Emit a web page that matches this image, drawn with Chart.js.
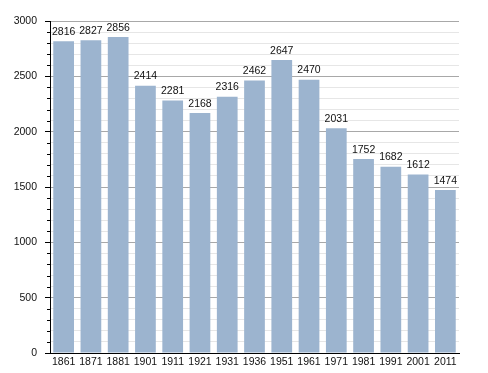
<!DOCTYPE html>
<html>
<head>
<meta charset="utf-8">
<script src="https://cdn.jsdelivr.net/npm/chart.js@4/dist/chart.umd.min.js"></script>
<style>
  html, body { margin: 0; padding: 0; background: #fff; }
  #wrap { width: 488px; height: 373px; }
</style>
</head>
<body>
<div id="wrap"><canvas id="chart" width="488" height="373"></canvas></div>
<script>
// population by census year
const years = ['1861', '1871', '1881', '1901', '1911', '1921', '1931', '1936', '1951', '1961', '1971', '1981', '1991', '2001', '2011'];
const population = [2816, 2827, 2856, 2414, 2281, 2168, 2316, 2462, 2647, 2470, 2031, 1752, 1682, 1612, 1474];
const yTicks = [0, 500, 1000, 1500, 2000, 2500, 3000];

const FONT = '"Liberation Sans", Arial, sans-serif';

// value labels above the bars + short minor ticks on the y axis
const extras = {
    id: 'extras',
    afterDatasetsDraw(chart) {
        const ctx = chart.ctx;
        const meta = chart.getDatasetMeta(0);
        ctx.save();
        ctx.font = '10.5px ' + FONT;
        ctx.fillStyle = '#111';
        ctx.textAlign = 'center';
        ctx.textBaseline = 'bottom';
        meta.data.forEach((bar, i) => {
            ctx.fillText(String(population[i]), bar.x, bar.y - 4);
        });

        const y = chart.scales.y;
        ctx.strokeStyle = '#000';
        ctx.lineWidth = 1;
        for (let v = 0; v <= 3000; v += 100) {
            if (v % 500 === 0) continue;
            const py = Math.round(y.getPixelForValue(v)) + 0.5;
            ctx.beginPath();
            ctx.moveTo(y.right - 3, py);
            ctx.lineTo(y.right, py);
            ctx.stroke();
        }
        ctx.restore();
    }
};

new Chart(document.getElementById('chart'), {
    type: 'bar',
    data: {
        labels: years,
        datasets: [{
            data: population,
            backgroundColor: '#9cb4cf',
            borderWidth: 0,
            barPercentage: 0.76,
            categoryPercentage: 1.0
        }]
    },
    options: {
        responsive: false,
        animation: false,
        layout: { padding: { top: 21, right: 29, left: 0, bottom: 0 } },
        plugins: { legend: { display: false }, tooltip: { enabled: false } },
        scales: {
            x: {
                grid: { display: false, drawTicks: false },
                border: { color: '#000', width: 1 },
                ticks: {
                    color: '#111',
                    padding: 3,
                    maxRotation: 0,
                    autoSkip: false,
                    font: { family: FONT, size: 10.5 }
                },
                afterFit(s) { s.height = 20; }
            },
            y: {
                min: 0,
                max: 3000,
                afterBuildTicks(s) {
                    const t = [];
                    for (let v = 0; v <= 3000; v += 100) t.push({ value: v });
                    s.ticks = t;
                },
                grid: {
                    color: c => (c.tick && c.tick.value % 500 === 0) ? '#a8a8a8' : '#e6e6e6',
                    tickColor: c => (c.tick && c.tick.value % 500 === 0) ? '#000' : 'rgba(0,0,0,0)',
                    tickLength: 5
                },
                border: { color: '#000', width: 1 },
                ticks: {
                    color: '#111',
                    padding: 8,
                    autoSkip: false,
                    callback: v => yTicks.includes(v) ? String(v) : '',
                    font: { family: FONT, size: 10.5 }
                },
                afterFit(s) { s.width = 50; }
            }
        }
    },
    plugins: [extras]
});
</script>
</body>
</html>
